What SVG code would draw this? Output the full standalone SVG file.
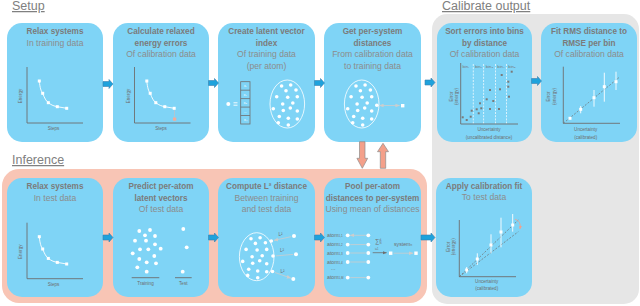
<svg xmlns="http://www.w3.org/2000/svg" xmlns:xlink="http://www.w3.org/1999/xlink" width="640" height="306" viewBox="0 0 640 306">
<style>
.box{fill:#7fd4f6}
.t{font-family:"Liberation Sans",Arial,sans-serif;font-weight:bold;font-size:8.2px;fill:#7b7b7b;text-anchor:middle}
.s{font-family:"Liberation Sans",Arial,sans-serif;font-size:8.6px;fill:#8c8c8c;text-anchor:middle}
.h{font-family:"Liberation Sans",Arial,sans-serif;font-size:12.5px;fill:#808080;text-decoration:underline}
.tiny{font-family:"Liberation Sans",Arial,sans-serif;font-size:4.6px;fill:#6e6e6e;text-anchor:middle}
.tl{font-family:"Liberation Sans",Arial,sans-serif;font-size:5.2px;fill:#6e6e6e}
.ax{stroke:#6e6e6e;stroke-width:0.9;fill:none}
.wl{stroke:#fff;stroke-width:0.9;fill:none}
.wd{fill:#fff}
.gd{fill:#7a7a7a}
.dbl{stroke:#cdcdcd;stroke-width:0.8;fill:none;marker-start:url(#ah);marker-end:url(#ah)}
.dash{stroke:#6e6e6e;stroke-width:0.7;stroke-dasharray:2,1.5;fill:none}
.vd{stroke:#fff;stroke-width:0.7;stroke-dasharray:2,1.2;fill:none}
.barrow{fill:#1ea2dc;stroke:#3a7fae;stroke-width:0.6}
.sarrow{fill:#f4a08a;stroke:#8c8c8c;stroke-width:0.7}
</style>
<defs>
<marker id="ah" viewBox="0 0 10 10" refX="9" refY="5" markerUnits="userSpaceOnUse" markerWidth="4.5" markerHeight="4.5" orient="auto-start-reverse"><path d="M0,1 L10,5 L0,9 Z" fill="#cdcdcd"/></marker>
<marker id="ahd" viewBox="0 0 10 10" refX="9" refY="5" markerUnits="userSpaceOnUse" markerWidth="4" markerHeight="4" orient="auto"><path d="M0,1 L10,5 L0,9 Z" fill="#6e6e6e"/></marker>
<marker id="ahs" viewBox="0 0 10 10" refX="9" refY="5" markerUnits="userSpaceOnUse" markerWidth="3.5" markerHeight="3.5" orient="auto"><path d="M0,1 L10,5 L0,9 Z" fill="#f4a08a"/></marker>
<path id="ba" class="barrow" d="M0,-2.5 H6 V-4.5 L10,0 L6,4.5 V2.5 H0 Z"/>
<path id="bal" class="barrow" d="M0,-2.5 H10 V-4.5 L14,0 L10,4.5 V2.5 H0 Z"/>
<g id="rc">
<path class="ax" d="M27,67 V123 H83"/>
<path class="wl" d="M39.3,81 C40,88 41,91 42.7,93.3 C44.5,98 46,101 48.3,102.7 C52,105.5 54,106 57.3,106.7 L66.7,108.3"/>
<rect class="wd" x="37.8" y="79.5" width="3" height="3"/>
<rect class="wd" x="41.2" y="91.8" width="3" height="3"/>
<rect class="wd" x="46.8" y="101.2" width="3" height="3"/>
<rect class="wd" x="55.8" y="105.2" width="3" height="3"/>
<rect class="wd" x="65.2" y="106.8" width="3" height="3"/>
<text class="tiny" transform="translate(22,96) rotate(-90)">Energy</text>
<text class="tiny" x="53.5" y="130">Steps</text>
</g>
<g id="ell">
<ellipse cx="0" cy="0" rx="17.3" ry="24" fill="none" stroke="#fff" stroke-width="0.8"/>
<g class="wd">
<circle cx="-5.7" cy="-18" r="1.8"/><circle cx="3.4" cy="-19" r="1.8"/><circle cx="-1.3" cy="-13.3" r="1.8"/><circle cx="8.7" cy="-14" r="1.8"/>
<circle cx="-10.6" cy="-7.3" r="1.8"/><circle cx="0.4" cy="-6.7" r="1.8"/><circle cx="10" cy="-7.3" r="1.8"/><circle cx="-4.6" cy="0" r="1.8"/>
<circle cx="5.5" cy="-1" r="1.8"/><circle cx="-14" cy="4.7" r="1.8"/><circle cx="-4" cy="6.5" r="1.8"/><circle cx="3" cy="4" r="1.8"/>
<circle cx="10" cy="7" r="1.8"/><circle cx="-8" cy="12.5" r="1.8"/><circle cx="1" cy="14.3" r="1.8"/><circle cx="10" cy="15" r="1.8"/>
<circle cx="-9" cy="18.7" r="1.8"/><circle cx="1" cy="21" r="1.8"/>
</g>
</g>
</defs>

<!-- panels -->
<rect x="432" y="14" width="207" height="290" rx="15" fill="#e6e6e6"/>
<rect x="2" y="169" width="425" height="134" rx="17" fill="#f8c5b5"/>
<text class="h" x="12" y="10">Setup</text>
<text class="h" x="442" y="10">Calibrate output</text>
<text class="h" x="12" y="164">Inference</text>

<g id="relax-train">
<rect class="box" x="7" y="23" width="96" height="119" rx="15"/>
<text class="t" x="55" y="34">Relax systems</text>
<text class="s" x="55" y="45.5">In training data</text>
<use xlink:href="#rc"/>
</g>

<g id="calc-errors">
<rect class="box" x="113" y="23" width="96" height="119" rx="15"/>
<text class="t" x="161" y="34">Calculate relaxed</text>
<text class="t" x="161" y="45.5">energy errors</text>
<text class="s" x="161" y="57">Of calibration data</text>
<use xlink:href="#rc" transform="translate(107.5,0)"/>
<line x1="174.5" y1="110.5" x2="174.5" y2="117" stroke="#f6b4a2" stroke-width="0.8" stroke-dasharray="1,1"/>
<rect x="173" y="117.5" width="3.2" height="3.2" fill="#f6ab98"/>
</g>

<g id="latent-index">
<rect class="box" x="218" y="23" width="97" height="119" rx="15"/>
<text class="t" x="266.5" y="34">Create latent vector</text>
<text class="t" x="266.5" y="45.5">index</text>
<text class="s" x="266.5" y="57">Of training data</text>
<text class="s" x="266.5" y="68.5">(per atom)</text>
<circle class="wd" cx="228.3" cy="104" r="2"/>
<path class="wl" d="M233.5,102.8 H237.5 M233.5,105.2 H237.5"/>
<g stroke="#6e6e6e" stroke-width="0.8" fill="none">
<rect x="240.7" y="81.7" width="9.3" height="42.3"/>
<path d="M240.7,90.2 H250 M240.7,98.6 H250 M240.7,107.1 H250 M240.7,115.5 H250"/>
</g>
<g class="tiny" style="font-size:3.4px;fill:#fff">
<text x="245.3" y="87.3">x₁</text><text x="245.3" y="95.7">x₂</text><text x="245.3" y="104.2">x₃</text><text x="245.3" y="112.6">...</text><text x="245.3" y="121.1">xₙ</text>
</g>
<use xlink:href="#ell" transform="translate(287.3,104)"/>
</g>

<g id="per-system-dist">
<rect class="box" x="324" y="23" width="97" height="119" rx="15"/>
<text class="t" x="372.5" y="34">Get per-system</text>
<text class="t" x="372.5" y="45.5">distances</text>
<text class="s" x="372.5" y="57">From calibration data</text>
<text class="s" x="372.5" y="68.5">to training data</text>
<use xlink:href="#ell" transform="translate(361.7,104)"/>
<circle class="wd" cx="376.8" cy="105.3" r="1.8"/>
<path class="dbl" d="M379.5,105.5 H399.5"/>
<rect class="wd" x="401" y="104" width="3.4" height="3.4"/>
</g>

<g id="sort-bins">
<rect class="box" x="437" y="23" width="95" height="119" rx="15"/>
<text class="t" x="484.5" y="34">Sort errors into bins</text>
<text class="t" x="484.5" y="45.5">by distance</text>
<text class="s" x="484.5" y="57">Of calibration data</text>
<path class="vd" d="M473.3,64 V124 M483.6,64 V124 M495.5,64 V124 M506.5,64 V124"/>
<g class="tiny" style="font-size:4.2px;fill:#7a7a7a">
<text x="466" y="67.5">bin₁</text><text x="478.5" y="67.5">bin₂</text><text x="489.5" y="67.5">bin₃</text><text x="501" y="67.5">bin₄</text><text x="512" y="67.5">bin₅</text>
</g>
<path class="ax" d="M460.7,63 V124 H518"/>
<g class="gd">
<rect x="461.7" y="116.3" width="2" height="2"/><rect x="465.7" y="119" width="2" height="2"/><rect x="469.7" y="115.7" width="2" height="2"/>
<rect x="470.7" y="109.7" width="2" height="2"/><rect x="475.7" y="108.3" width="2" height="2"/><rect x="477.7" y="112.3" width="2" height="2"/>
<rect x="480.3" y="107.3" width="2" height="2"/><rect x="479" y="102.3" width="2" height="2"/><rect x="485.7" y="98.3" width="2" height="2"/>
<rect x="489" y="89" width="2" height="2"/><rect x="489" y="108" width="2" height="2"/><rect x="492.3" y="100" width="2" height="2"/>
<rect x="498" y="108" width="2" height="2"/><rect x="499" y="88.3" width="2" height="2"/><rect x="500.7" y="74" width="2" height="2"/>
<rect x="507.3" y="80.7" width="2" height="2"/><rect x="507.3" y="85.7" width="2" height="2"/><rect x="510.7" y="70.7" width="2" height="2"/>
<rect x="508" y="95.7" width="2" height="2"/>
</g>
<text class="tiny" transform="translate(452.5,96.5) rotate(-90)">Error</text>
<text class="tiny" transform="translate(458,96.5) rotate(-90)">(energy)</text>
<text class="tiny" x="489" y="130.5">Uncertainty</text>
<text class="tiny" x="489" y="138.5">(uncalibrated distance)</text>
</g>

<g id="fit-rms">
<rect class="box" x="541" y="23" width="96" height="119" rx="15"/>
<text class="t" x="589" y="34">Fit RMS distance to</text>
<text class="t" x="589" y="45.5">RMSE per bin</text>
<text class="s" x="589" y="57">Of calibration data</text>
<path class="ax" d="M563.3,66.7 V123.3 H620"/>
<path class="dash" d="M563.3,123.3 L620,76.7"/>
<path class="wl" d="M580.7,106 V113.3 M594,90 V106.7 M604.3,72.7 V101.7 M616,71.7 V90"/>
<g class="wd">
<rect x="568.5" y="116.8" width="3" height="3"/><rect x="579.2" y="107.8" width="3" height="3"/><rect x="592.5" y="96.2" width="3" height="3"/>
<rect x="602.8" y="85.2" width="3" height="3"/><rect x="614.5" y="80.2" width="3" height="3"/>
</g>
<text class="tiny" transform="translate(549.5,96.5) rotate(-90)">Error</text>
<text class="tiny" transform="translate(555.5,96.5) rotate(-90)">(energy)</text>
<text class="tiny" x="585.7" y="130.5">Uncertainty</text>
<text class="tiny" x="585.7" y="138.5">(calibrated)</text>
</g>

<g id="relax-test">
<rect class="box" x="7" y="178" width="96" height="119" rx="15"/>
<text class="t" x="55" y="189">Relax systems</text>
<text class="s" x="55" y="200.5">In test data</text>
<use xlink:href="#rc" transform="translate(0,155.7)"/>
</g>

<g id="predict-latent">
<rect class="box" x="113" y="178" width="96" height="119" rx="15"/>
<text class="t" x="161" y="189">Predict per-atom</text>
<text class="t" x="161" y="200.5">latent vectors</text>
<text class="s" x="161" y="212">Of test data</text>
<g class="wd">
<circle cx="139.3" cy="231" r="1.9"/><circle cx="150" cy="230" r="1.9"/><circle cx="145" cy="235.3" r="1.9"/><circle cx="155" cy="236" r="1.9"/>
<circle cx="135" cy="240.7" r="1.9"/><circle cx="146" cy="240.7" r="1.9"/><circle cx="155" cy="244.3" r="1.9"/><circle cx="140" cy="249.3" r="1.9"/>
<circle cx="148.3" cy="249.3" r="1.9"/><circle cx="160.7" cy="248.7" r="1.9"/><circle cx="132.7" cy="253.3" r="1.9"/><circle cx="139.3" cy="259" r="1.9"/>
<circle cx="154.3" cy="256" r="1.9"/><circle cx="146.7" cy="262.3" r="1.9"/><circle cx="156" cy="263.3" r="1.9"/><circle cx="137.3" cy="267.3" r="1.9"/>
<circle cx="146.7" cy="271.7" r="1.9"/>
<circle cx="183.3" cy="229" r="1.9"/><circle cx="186.7" cy="247.3" r="1.9"/><circle cx="182.7" cy="271.7" r="1.9"/>
</g>
<path class="ax" d="M131.7,277.7 H159.3 M175,277.7 H191.7"/>
<text class="tiny" x="145.5" y="284.5">Training</text>
<text class="tiny" x="183.3" y="284.5">Test</text>
</g>

<g id="compute-l2">
<rect class="box" x="218" y="178" width="97" height="119" rx="15"/>
<text class="t" x="266.5" y="189">Compute L² distance</text>
<text class="s" x="266.5" y="200.5">Between training</text>
<text class="s" x="266.5" y="212">and test data</text>
<use xlink:href="#ell" transform="translate(256.7,256.7)"/>
<g class="wd">
<circle cx="271.3" cy="241" r="1.8"/><circle cx="273" cy="256" r="1.8"/><circle cx="272.5" cy="271.5" r="1.8"/>
<circle cx="294" cy="236" r="2"/><circle cx="296" cy="254.3" r="2"/><circle cx="293.3" cy="279" r="2"/>
</g>
<path class="dbl" d="M274,240.4 L291.3,236.6 M275.8,255.9 L293.2,254.4 M275,272.5 L290.8,278.1"/>
<text class="tiny" x="280.5" y="236">L²</text>
<text class="tiny" x="282" y="252">L²</text>
<text class="tiny" x="282.5" y="273">L²</text>
</g>

<g id="pool">
<rect class="box" x="324" y="178" width="97" height="119" rx="15"/>
<text class="t" x="372.5" y="189">Pool per-atom</text>
<text class="t" x="372.5" y="200.5">distances to per-system</text>
<text class="s" x="372.5" y="212">Using mean of distances</text>
<g class="tl">
<text x="327" y="237">atom<tspan font-size="3px">1,1</tspan></text>
<text x="327" y="246.3">atom<tspan font-size="3px">1,2</tspan></text>
<text x="327" y="254.7">atom<tspan font-size="3px">1,3</tspan></text>
<text x="327" y="263.7">atom<tspan font-size="3px">1,4</tspan></text>
<text x="331" y="270">...</text>
<text x="327" y="279.3">atom<tspan font-size="3px">1,M</tspan></text>
<text x="394" y="246">system<tspan font-size="3px">n</tspan></text>
</g>
<g class="wd">
<circle cx="347.7" cy="235.3" r="1.9"/><circle cx="368.3" cy="235.3" r="1.9"/>
<circle cx="347.7" cy="244.6" r="1.9"/><circle cx="368.3" cy="244.6" r="1.9"/>
<circle cx="347.7" cy="253" r="1.9"/><circle cx="368.3" cy="253" r="1.9"/>
<circle cx="347.7" cy="262" r="1.9"/><circle cx="368.3" cy="262" r="1.9"/>
<circle cx="347.7" cy="277.6" r="1.9"/><circle cx="368.3" cy="277.6" r="1.9"/>
<rect x="389" y="251.5" width="3.4" height="3.4"/><rect x="414.3" y="251.5" width="3.4" height="3.4"/>
</g>
<path class="dbl" d="M350.2,235.3 H365.8 M350.2,244.6 H365.8 M350.2,253 H365.8 M350.2,262 H365.8 M350.2,277.6 H365.8 M393.6,253.2 H413"/>
<text class="tl" x="375" y="243" style="font-size:6px">∑</text>
<text class="tl" x="379.5" y="240.5" style="font-size:2.8px">dᵢ</text>
<text class="tl" x="379.5" y="243.5" style="font-size:2.8px">N</text>
<text class="tl" x="375" y="249.5" style="font-size:2.6px">i=1</text>
<path d="M372.7,252.7 H386.5" stroke="#6e6e6e" stroke-width="0.8" marker-end="url(#ahd)"/>
</g>

<g id="apply-fit">
<rect class="box" x="436" y="178" width="96" height="119" rx="15"/>
<text class="t" x="484" y="188.5">Apply calibration fit</text>
<text class="s" x="484" y="200">To test data</text>
<path class="ax" d="M459.3,220 V276.7 H516"/>
<path class="dash" d="M459.3,276.7 L518.3,220 M459.3,276.7 L518.3,231.7"/>
<path class="wl" d="M466.7,267 V273.3 M477.3,253.3 V265 M491,234.3 V253.3 M501,217.7 V247.3 M512.7,214 V231.7"/>
<g class="wd">
<rect x="465.2" y="268.5" width="3" height="3"/><rect x="475.8" y="257.5" width="3" height="3"/><rect x="489.5" y="243.5" width="3" height="3"/>
<rect x="499.5" y="230.5" width="3" height="3"/><rect x="511.2" y="223.5" width="3" height="3"/>
</g>
<path d="M515,219.2 Q521.5,221 520,229" stroke="#f4a08a" stroke-width="0.8" fill="none" marker-end="url(#ahs)"/>
<text class="tiny" transform="translate(449.5,246.7) rotate(-90)">Error</text>
<text class="tiny" transform="translate(455,246.7) rotate(-90)">(energy)</text>
<text class="tiny" x="486.7" y="282.8">Uncertainty</text>
<text class="tiny" x="486.7" y="290">(calibrated)</text>
</g>

<g id="connectors">
<use xlink:href="#ba" transform="translate(103,84)"/>
<use xlink:href="#ba" transform="translate(208.5,83)"/>
<use xlink:href="#ba" transform="translate(314.5,83)"/>
<use xlink:href="#ba" transform="translate(425,82.5)"/>
<use xlink:href="#ba" transform="translate(531.5,81)"/>
<use xlink:href="#ba" transform="translate(103,237.5)"/>
<use xlink:href="#ba" transform="translate(208.5,237.5)"/>
<use xlink:href="#ba" transform="translate(314.5,237.5)"/>
<use xlink:href="#bal" transform="translate(421,237.5)"/>
<path class="sarrow" d="M359.5,141.7 H365 V158.3 H367.7 L362.3,168.3 L356.9,158.3 H359.5 Z"/>
<path class="sarrow" d="M380.3,168.3 V151.7 H377.5 L383,143.3 L388.5,151.7 H385.7 V168.3 Z"/>
</g>
</svg>
